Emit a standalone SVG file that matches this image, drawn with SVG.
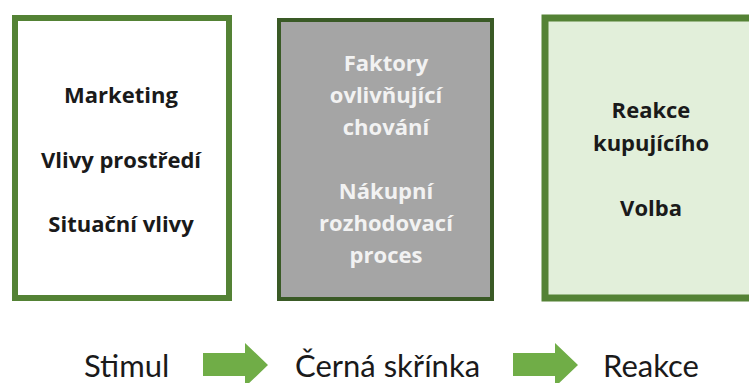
<svg xmlns="http://www.w3.org/2000/svg" width="749" height="383" viewBox="0 0 749 383">
<style>
.b{font-family:"Open Sans","Liberation Sans",sans-serif;font-weight:bold;font-size:22px;text-anchor:middle}
.dk{fill:#1a1a1a}
.lt{fill:#f2f2f2}
.bot{font-family:Lato,"Open Sans","Liberation Sans",sans-serif;font-size:31px;fill:#1a1a1a}
.arr{fill:#70ad47}
</style>
<rect width="749" height="383" fill="#ffffff"/>
<g id="stimul-box">
<rect x="15" y="18" width="214" height="280" fill="#ffffff" stroke="#548235" stroke-width="6"/>
<text class="b dk" x="121" y="103">Marketing</text>
<text class="b dk" x="121" y="168">Vlivy prostředí</text>
<text class="b dk" x="121" y="232">Situační vlivy</text>
</g>
<g id="black-box">
<rect x="279" y="20" width="213" height="279" fill="#a5a5a5" stroke="#3a5a26" stroke-width="4"/>
<text class="b lt" x="386" y="71">Faktory</text>
<text class="b lt" x="386" y="103">ovlivňující</text>
<text class="b lt" x="386" y="135">chování</text>
<text class="b lt" x="386" y="199">Nákupní</text>
<text class="b lt" x="386" y="231">rozhodovací</text>
<text class="b lt" x="386" y="263">proces</text>
</g>
<g id="reaction-box">
<rect x="545" y="18" width="220" height="280" fill="#e2efda" stroke="#548235" stroke-width="7"/>
<text class="b dk" x="651" y="118">Reakce</text>
<text class="b dk" x="651" y="151">kupujícího</text>
<text class="b dk" x="651" y="216">Volba</text>
</g>
<g id="connectors">
<polygon class="arr" points="203,353 245,353 245,343 268,365 245,387 245,376 203,376"/>
<polygon class="arr" points="513,353 555,353 555,343 578,365 555,387 555,376 513,376"/>
</g>
<g id="labels">
<text class="bot" x="84" y="377">Stimul</text>
<text class="bot" x="295" y="377">Černá skřínka</text>
<text class="bot" x="603" y="377">Reakce</text>
</g>
</svg>
